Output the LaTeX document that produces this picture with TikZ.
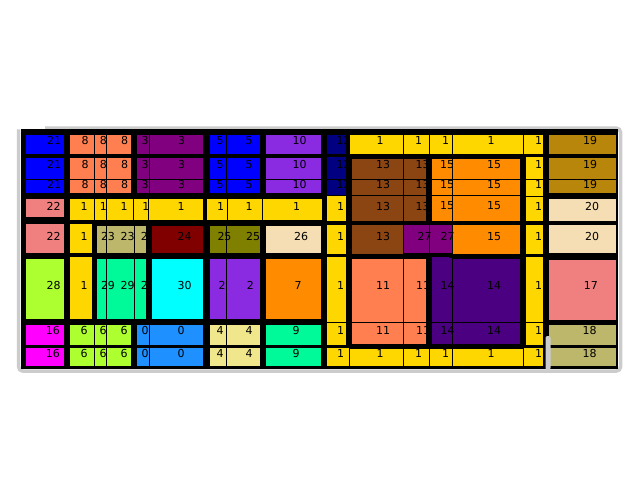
\documentclass[tikz,border=0pt]{standalone}
\usepackage{fontspec}
\setmainfont{DejaVu Sans}
\definecolor{cblue}{HTML}{0000FF}
\definecolor{ccoral}{HTML}{FF7F50}
\definecolor{cpurple}{HTML}{800080}
\definecolor{cbv}{HTML}{8A2BE2}
\definecolor{cnavy}{HTML}{000080}
\definecolor{cgold}{HTML}{FFD700}
\definecolor{cdgold}{HTML}{B8860B}
\definecolor{cbrown}{HTML}{8B4513}
\definecolor{cdorange}{HTML}{FF8C00}
\definecolor{clcoral}{HTML}{F08080}
\definecolor{cwheat}{HTML}{F5DEB3}
\definecolor{cdkhaki}{HTML}{BDB76B}
\definecolor{cmaroon}{HTML}{800000}
\definecolor{colive}{HTML}{808000}
\definecolor{cgy}{HTML}{ADFF2F}
\definecolor{cmsg}{HTML}{00FA9A}
\definecolor{ccyan}{HTML}{00FFFF}
\definecolor{cindigo}{HTML}{4B0082}
\definecolor{cmag}{HTML}{FF00FF}
\definecolor{cdodger}{HTML}{1E90FF}
\definecolor{ckhaki}{HTML}{F0E68C}
\definecolor{cframe}{HTML}{CCCCCC}
\tikzset{
  celledge/.style={draw=black, line width=0.8pt},
  lab/.style={anchor=west, inner sep=0pt, font=\fontsize{11}{11}\selectfont},
  gapbar/.style={fill=black}
}
\def\cellsA{%
25/134.3/64.3/154.3/cblue/47/140.3/21,%
69.3/134.3/94.3/154.3/ccoral/81.5/140.3/8,%
94.3/134.3/106/154.3/ccoral/99.7/140.3/8,%
106/134.3/131/154.3/ccoral/121/140.3/8,%
136/134.3/149.3/154.3/cpurple/141.5/140.3/3,%
149.3/134.3/203.3/154.3/cpurple/178/140.3/3,%
209/134.3/226.7/154.3/cblue/216.5/140.3/5,%
226.7/134.3/260/154.3/cblue/245.5/140.3/5,%
265.7/134.3/321/154.3/cbv/292.5/140.3/10,%
326/134.3/346.7/154.3/cnavy/336.5/140.3/12,%
349.3/134.3/403/154.3/cgold/376.3/140.3/1,%
403/134.3/429.5/154.3/cgold/415/140.3/1,%
429.5/134.3/452/154.3/cgold/442/140.3/1,%
452/134.3/523.3/154.3/cgold/487.5/140.3/1,%
523.3/134.3/543.3/154.3/cgold/535/140.3/1,%
548.3/134.3/616.7/154.3/cdgold/583/140.3/19,%
25/157/64.3/179.5/cblue/47/164.2/21,%
69.3/157/94.3/179.5/ccoral/81.5/164.2/8,%
94.3/157/106/179.5/ccoral/99.7/164.2/8,%
106/157/131/179.5/ccoral/121/164.2/8,%
136/157/149.3/179.5/cpurple/141.5/164.2/3,%
149.3/157/203.3/179.5/cpurple/178/164.2/3,%
209/157/226.7/179.5/cblue/216.5/164.2/5,%
226.7/157/260/179.5/cblue/245.5/164.2/5,%
265.7/157/321/179.5/cbv/292.5/164.2/10,%
326/156.7/346.7/179.5/cnavy/336.5/164.2/12,%
351.7/158.3/403/179.5/cbrown/376/164.2/13,%
403/158.3/426.7/179.5/cbrown/415.3/164.2/13,%
431.7/158.3/452/179.5/cdorange/440/164.2/15,%
452/158.3/520/179.5/cdorange/487/164.2/15,%
525/156.7/543.3/179.5/cgold/535/164.2/1,%
548.3/157/616.7/179.5/cdgold/583/164.2/19,%
25/179.5/64.3/193/cblue/47/184.3/21,%
69.3/179.5/94.3/193/ccoral/81.5/184.3/8,%
94.3/179.5/106/193/ccoral/99.7/184.3/8,%
106/179.5/131/193/ccoral/121/184.3/8,%
136/179.5/149.3/193/cpurple/141.5/184.3/3,%
149.3/179.5/203.3/193/cpurple/178/184.3/3,%
209/179.5/226.7/193/cblue/216.5/184.3/5,%
226.7/179.5/260/193/cblue/245.5/184.3/5,%
265.7/179.5/321/193/cbv/292.5/184.3/10,%
326/179.5/346.7/195.5/cnavy/336.5/184.3/12,%
351.7/179.5/403/195.5/cbrown/376/184.3/13,%
403/179.5/426.7/195.5/cbrown/415.3/184.3/13,%
431.7/179.5/452/195.5/cdorange/440/184.3/15,%
452/179.5/520/195.5/cdorange/487/184.3/15,%
525/179.5/543.3/196/cgold/535/184.3/1,%
548.3/179.5/616.7/193/cdgold/583/184.3/19,%
25/198/64.3/217.5/clcoral/46.5/206/22,%
69.3/198/94.2/220/cgold/80.5/206/1,%
94.2/198/106.2/220/cgold/99.7/206/1,%
106.2/198/133.8/220/cgold/120.3/206/1,%
133.8/198/148.8/220/cgold/142.2/206/1,%
148.8/198/203.3/220/cgold/177.5/206/1,%
206.7/198/227.2/220/cgold/216.8/206/1,%
227.2/198/262.5/220/cgold/245.5/206/1,%
262.5/198/322.3/220/cgold/293/206/1,%
326/195.5/346.7/221/cgold/336.8/206/1,%
351.7/195.5/403/221/cbrown/376/206/13,%
403/195.5/426.7/221/cbrown/415.3/206/13,%
431.7/195.5/452/221/cdorange/440/206/15,%
452/195.5/520/221/cdorange/487/206/15,%
525/196/543.3/221.5/cgold/535/206/1,%
548.3/198.3/616.7/221.5/cwheat/585/206/20,%
25/223.5/64.3/253.5/clcoral/46.5/236.3/22,%
69.3/223.5/92.3/253.5/cgold/80.5/236.3/1,%
96.7/225/106.7/253/cdkhaki/100.8/236.3/23,%
106.7/225/134/253/cdkhaki/120.5/236.3/23,%
151.7/225/203.3/253/cmaroon/177.4/236.3/24,%
209/225/226.7/253.5/colive/217.3/236.3/25,%
226.7/225/260/253.5/colive/245.9/236.3/25,%
265.7/225/321/253.5/cwheat/294/236.3/26,%
326/224/346.7/254/cgold/336.8/236.3/1,%
351.7/224/403/254/cbrown/376/236.3/13,%
403/224.5/429/253.5/cpurple/417.3/236.3/27,%
429/224.5/452/253.5/cpurple/440.5/236.3/27,%
452/224/520/254.3/cdorange/487/236.3/15,%
525/224/543.3/254/cgold/535/236.3/1,%
548.3/224/616.7/253.5/cwheat/585/236.3/20,%
25/258.3/64.3/319.3/cgy/46.5/285.7/28,%
69.3/256.7/92.3/319.3/cgold/80.5/285.7/1,%
96.7/258.3/106.7/319.3/cmsg/100.8/285.7/29,%
106.7/258.3/134/319.3/cmsg/120.5/285.7/29,%
151.7/258.3/203.3/319.3/ccyan/177.4/285.7/30,%
209/258.3/226.7/319.3/cbv/218.4/285.7/2,%
226.7/258.3/260/319.3/cbv/246.7/285.7/2,%
265.7/258.3/321/319.3/cdorange/294.3/285.7/7,%
326/256.7/346.7/322.2/cgold/336.8/285.7/1,%
351.7/258.3/403/322.2/ccoral/376/285.7/11,%
403/258.3/426.7/322.2/ccoral/416/285.7/11,%
431.7/256.5/452/322.2/cindigo/440.5/285.7/14,%
452/258.3/520/322.2/cindigo/487/285.7/14,%
525/256.7/543.3/322.2/cgold/535/285.7/1,%
548.3/259/616.7/320/clcoral/583.6/285.7/17,%
25/324/64.3/345.7/cmag/45.7/330.7/16,%
69.3/324/94.3/345.7/cgy/80.5/330.7/6,%
94.3/324/106/345.7/cgy/99.5/330.7/6,%
106/324/131/345.7/cgy/120.5/330.7/6,%
136/324/149.3/345.7/cdodger/141.5/330.7/0,%
149.3/324/203.3/345.7/cdodger/177.5/330.7/0,%
209/324/226.7/345.7/ckhaki/216.5/330.7/4,%
226.7/324/260/345.7/ckhaki/245.5/330.7/4,%
265.7/324/321/345.7/cmsg/292.5/330.7/9,%
326/322.2/346.7/345/cgold/336.8/330.7/1,%
351.7/322.2/403/344/ccoral/376/330.7/11,%
403/322.2/426.7/344/ccoral/416/330.7/11,%
431.7/322.2/452/344/cindigo/440.5/330.7/14,%
452/322.2/520/344/cindigo/487/330.7/14,%
525/322.2/543.3/345/cgold/535/330.7/1,%
548.3/324/616.7/345.7/cdkhaki/582.5/330.7/18,%
25/347.3/64.3/366.7/cmag/45.7/353.7/16,%
69.3/347.3/94.3/366.7/cgy/80.5/353.7/6,%
94.3/347.3/106/366.7/cgy/99.5/353.7/6,%
106/347.3/131/366.7/cgy/120.5/353.7/6,%
136/347.3/149.3/366.7/cdodger/141.5/353.7/0,%
149.3/347.3/203.3/366.7/cdodger/177.5/353.7/0,%
209/347.3/226.7/366.7/ckhaki/216.5/353.7/4,%
226.7/347.3/260/366.7/ckhaki/245.5/353.7/4,%
265.7/347.3/321/366.7/cmsg/292.5/353.7/9,%
326/347.3/349.3/366.7/cgold/336.8/353.7/1,%
349.3/348.3/403/366.7/cgold/376.3/353.7/1,%
403/348.3/429.5/366.7/cgold/415/353.7/1,%
429.5/348.3/452/366.7/cgold/442/353.7/1,%
452/348.3/523.3/366.7/cgold/487.5/353.7/1,%
523.3/347.3/543.3/366.7/cgold/535/353.7/1,%
548.3/347.3/616.7/366.7/cdkhaki/582.5/353.7/18%
}
\begin{document}
\begin{tikzpicture}[x=1pt,y=-1pt]
\useasboundingbox (0,0) rectangle (640,500);
\fill[white] (0,0) rectangle (640,500);
% outer frame
\draw[cframe, line width=3.5pt, rounded corners=4pt] (45,128.2) -- (620.5,128.2) -- (620.5,371) -- (18.7,371) -- (18.7,129.5);
\fill[black] (20.5,129.5) rectangle (618.3,368.5);
% cells
\foreach \xa/\ya/\xb/\yb/\col/\lx/\ly/\t in \cellsA {
  \fill[fill=\col] (\xa,\ya) rectangle (\xb,\yb);
  \draw[celledge] (\xa,\ya) rectangle (\xb,\yb);
}
\fill[cdkhaki] (134,225) rectangle (146.7,253);
\draw[celledge] (134,225) rectangle (146.7,253);
\fill[cmsg] (134,258.3) rectangle (146.7,319.3);
\draw[celledge] (134,258.3) rectangle (146.7,319.3);
% labels
\foreach \xa/\ya/\xb/\yb/\col/\lx/\ly/\t [count=\i] in \cellsA {
  \node[lab] (n\i) at (\lx,\ly) {\t};
}
\begin{scope}
  \clip (134,225) rectangle (146.7,253);
  \node[lab] (k23) at (140.7,236.3) {23};
\end{scope}
\begin{scope}
  \clip (134,258.3) rectangle (146.7,319.3);
  \node[lab] (k29) at (140.7,285.7) {29};
\end{scope}
% thick group borders drawn on top
\fill[gapbar] (346.7,154.3) rectangle (351.7,348.3);
\fill[gapbar] (347,154.3) rectangle (525,158.3);
\fill[gapbar] (347,344) rectangle (525,348.3);
\fill[gapbar] (520,154.3) rectangle (525,348.3);
\fill[gapbar] (426.7,154.3) rectangle (431.7,222.7);
\fill[gapbar] (401,221) rectangle (431.7,224.5);
\fill[gapbar] (426.7,254) rectangle (431.7,348.3);
\fill[gapbar] (347,254) rectangle (431.7,258.3);
\fill[gapbar] (449,254) rectangle (525,258.3);
\fill[gapbar] (92.3,220) rectangle (96.7,321);
\fill[gapbar] (92.3,220) rectangle (151.7,225);
\fill[gapbar] (146.7,220) rectangle (151.7,321);
% grey bar near the right
\fill[cframe, rounded corners=2pt] (545.5,336) rectangle (550.5,370);
\end{tikzpicture}
\end{document}
